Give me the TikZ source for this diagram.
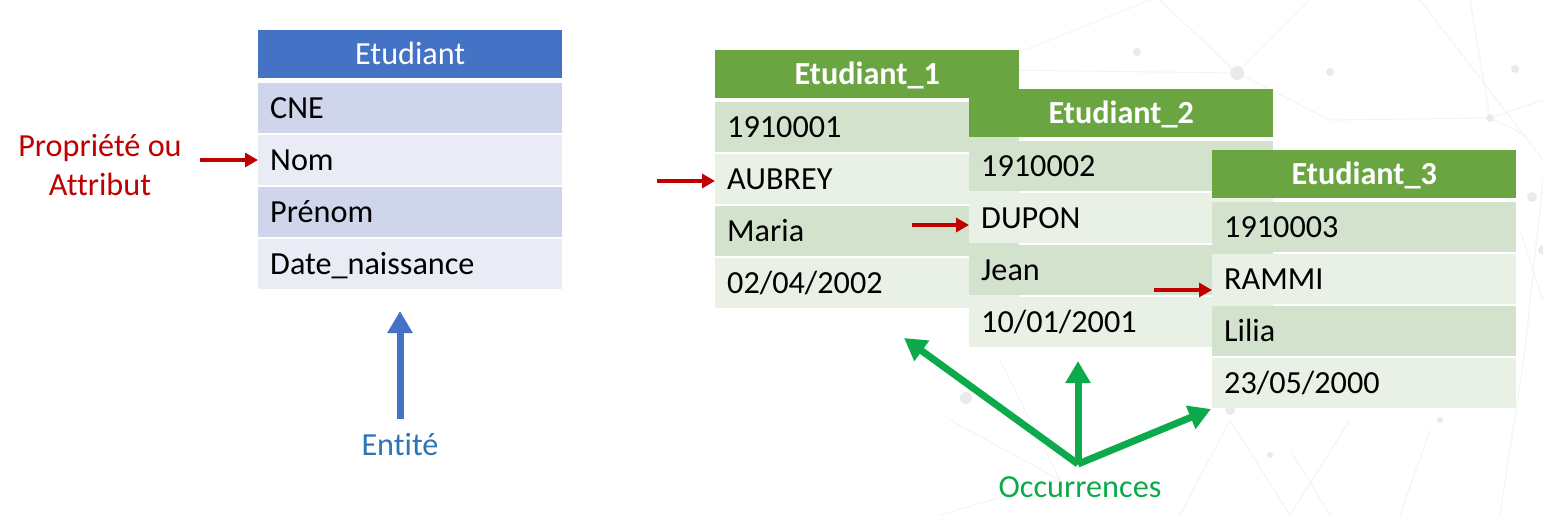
\documentclass[tikz,border=0pt]{standalone}
\usepackage{fontspec}
\setmainfont{Carlito}[Ligatures=NoCommon]
\usetikzlibrary{arrows.meta}
\definecolor{hdrblue}{HTML}{4472C4}
\definecolor{bband1}{HTML}{CFD5EA}
\definecolor{bband2}{HTML}{E9EBF5}
\definecolor{hdrgreen}{HTML}{6AA541}
\definecolor{gband1}{HTML}{D3E2CD}
\definecolor{gband2}{HTML}{E9F1E6}
\definecolor{attrred}{HTML}{C00000}
\definecolor{entblue}{HTML}{2E75B6}
\definecolor{occgreen}{HTML}{0DAA4C}
\definecolor{netgray}{HTML}{F3F3F3}
\definecolor{dotgray}{HTML}{EAEAEA}
\begin{document}
\begin{tikzpicture}[x=1pt,y=-1pt,
  cell/.style={anchor=north west, minimum width=304pt, minimum height=50pt,
    text width=280pt, inner xsep=12pt, inner ysep=0pt, align=left,
    text height=24pt, text depth=4pt, font=\fontsize{32.2}{36}\selectfont},
  bluehdr/.style={cell, fill=hdrblue, minimum height=48pt, align=center, text=white},
  greenhdr/.style={cell, fill=hdrgreen, minimum height=48pt, align=center, text=white,
    font=\fontsize{32.2}{36}\selectfont\bfseries},
  bodd/.style={cell, fill=bband1}, beven/.style={cell, fill=bband2},
  godd/.style={cell, fill=gband1}, geven/.style={cell, fill=gband2},
  redarrow/.style={draw=attrred, line width=4pt, -{Triangle[length=13pt,width=14pt]}},
  bluearrow/.style={draw=hdrblue, line width=7pt, -{Triangle[length=22pt,width=24pt]}},
  greenarrow/.style={draw=occgreen, line width=7pt, -{Triangle[length=22pt,width=24pt]}},
  label/.style={font=\fontsize{32.2}{39}\selectfont, align=center, inner sep=0pt},
  net/.style={draw=netgray, line width=1pt},
  netdot/.style={fill=dotgray}]
\useasboundingbox (0,0) rectangle (1543,515);
\fill[white] (0,0) rectangle (1543,515);

% faint background network
\draw[net] (1000,70) -- (1237,73) -- (1310,0);
\draw[net] (1160,0) -- (1237,73) -- (1330,120);
\draw[net] (1420,0) -- (1543,160);
\draw[net] (1330,120) -- (1490,118) -- (1543,100);
\draw[net] (1470,0) -- (1490,118) -- (1525,135);
\draw[net] (1000,60) -- (1150,0);
\draw[net] (1543,180) -- (1525,350) -- (1500,515);
\draw[net] (1520,230) -- (1543,300);
\draw[net] (1230,420) -- (1290,515);
\draw[net] (1230,420) -- (1180,515);
\draw[net] (1290,450) -- (1330,515);
\draw[net] (1350,420) -- (1290,515);
\draw[net] (1430,430) -- (1400,515);
\draw[net] (1000,360) -- (1060,480) -- (940,515);
\draw[net] (950,420) -- (1060,480);
\fill[netdot] (1237,73) circle (7);
\fill[netdot] (1137,52) circle (4);
\fill[netdot] (1330,72) circle (4);
\fill[netdot] (1490,118) circle (4);
\fill[netdot] (1515,69) circle (4);
\fill[netdot] (1532,197) circle (5);
\fill[netdot] (1543,250) circle (5);
\fill[netdot] (1230,410) circle (5);
\fill[netdot] (966,398) circle (6);
\fill[netdot] (1270,455) circle (3);
\fill[netdot] (1440,420) circle (3);

% Entity table
\node[bluehdr] (ent) at (258,30) {Etudiant};
\node[bodd]  (e-cne)  at (258,83)  {CNE};
\node[beven] (e-nom)  at (258,135) {Nom};
\node[bodd]  (e-pre)  at (258,187) {Prénom};
\node[beven] (e-date) at (258,239) {Date\_naissance};

% Occurrence 1
\node[greenhdr] (o1) at (715,50) {Etudiant\_1};
\node[godd]  (o1-cne)  at (715,102) {1910001};
\node[geven] (o1-nom)  at (715,154) {AUBREY};
\node[godd]  (o1-pre)  at (715,206) {Maria};
\node[geven] (o1-date) at (715,258) {02/04/2002};

% Occurrence 2
\node[greenhdr] (o2) at (969,89) {Etudiant\_2};
\node[godd]  (o2-cne)  at (969,141) {1910002};
\node[geven] (o2-nom)  at (969,193) {DUPON};
\node[godd]  (o2-pre)  at (969,245) {Jean};
\node[geven] (o2-date) at (969,297) {10/01/2001};

% Occurrence 3
\node[greenhdr] (o3) at (1212,150) {Etudiant\_3};
\node[godd]  (o3-cne)  at (1212,202) {1910003};
\node[geven] (o3-nom)  at (1212,254) {RAMMI};
\node[godd]  (o3-pre)  at (1212,306) {Lilia};
\node[geven] (o3-date) at (1212,358) {23/05/2000};

% Attribute label and arrows
\node[label, text=attrred] (attr) at (100,165) {Propriété ou\\Attribut};
\coordinate (a0) at (200,160);
\coordinate (a1) at (657,181);
\coordinate (a2) at (912,225);
\coordinate (a3) at (1154,290);
\draw[redarrow] (a0) -- (e-nom.west |- a0);
\draw[redarrow] (a1) -- (o1-nom.west |- a1);
\draw[redarrow] (a2) -- (o2-nom.west |- a2);
\draw[redarrow] (a3) -- (o3-nom.west |- a3);

% Entity label
\node[label, text=entblue] (entlbl) at (400,445) {Entité};
\coordinate (eb) at (400,419);
\coordinate (et) at (400,311);
\draw[bluearrow] (eb) -- (et);

% Occurrences label
\node[label, text=occgreen] (occ) at (1080,487) {Occurrences};
\coordinate (ob) at (1078,464);
\coordinate (ot1) at (904,338);
\coordinate (ot2) at (1078,361);
\coordinate (ot3) at (1211,409);
\draw[greenarrow] (ob) -- (ot1);
\draw[greenarrow] ([yshift=3pt]ob) -- (ot2);
\draw[greenarrow] (ob) -- (ot3);
\end{tikzpicture}
\end{document}
